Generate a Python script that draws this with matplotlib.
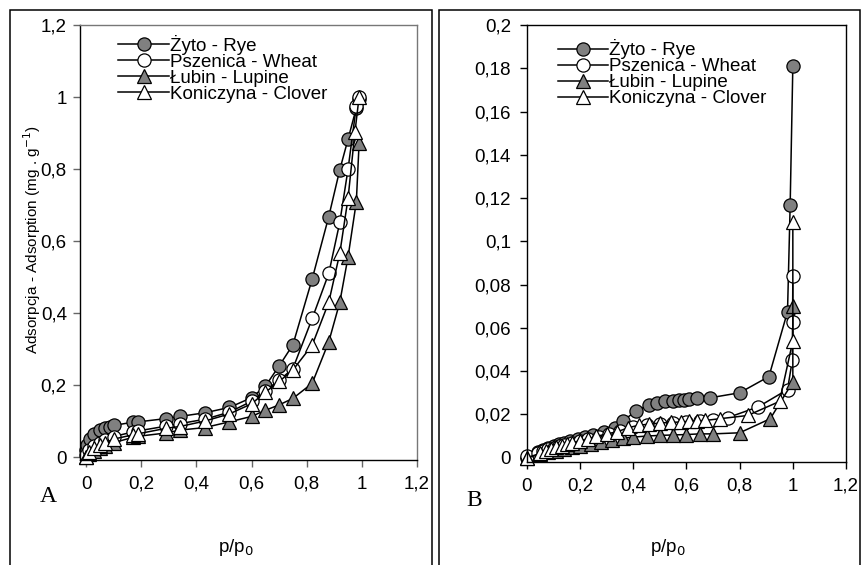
import matplotlib
matplotlib.use("Agg")
import matplotlib.pyplot as plt
from matplotlib.patches import Rectangle

plt.rcParams['font.family'] = ['Liberation Sans', 'DejaVu Sans']

# ---- Panel A: adsorption isotherms, full range ----
labels = ["Żyto - Rye", "Pszenica - Wheat", "Łubin - Lupine", "Koniczyna - Clover"]

a_rye_x = [0.0, 0.005, 0.015, 0.03, 0.05, 0.07, 0.085, 0.1, 0.17, 0.19, 0.29, 0.34,
           0.43, 0.52, 0.6, 0.65, 0.7, 0.75, 0.82, 0.88, 0.92, 0.95, 0.98, 0.99]
a_rye_y = [0.02, 0.035, 0.05, 0.065, 0.075, 0.08, 0.085, 0.088, 0.097, 0.098, 0.107, 0.113,
           0.123, 0.138, 0.165, 0.197, 0.253, 0.312, 0.495, 0.668, 0.798, 0.883, 0.97, 0.995]

a_wheat_x = [0.0, 0.01, 0.03, 0.05, 0.07, 0.1, 0.17, 0.19, 0.29, 0.34, 0.43,
             0.52, 0.6, 0.65, 0.7, 0.75, 0.82, 0.88, 0.92, 0.95, 0.98, 0.99]
a_wheat_y = [0.005, 0.02, 0.03, 0.04, 0.047, 0.057, 0.07, 0.073, 0.086, 0.093, 0.105,
             0.125, 0.155, 0.185, 0.213, 0.246, 0.385, 0.51, 0.652, 0.8, 0.975, 1.0]

a_lupine_x = [0.0, 0.01, 0.03, 0.05, 0.07, 0.1, 0.17, 0.19, 0.29, 0.34, 0.43,
              0.52, 0.6, 0.65, 0.7, 0.75, 0.82, 0.88, 0.92, 0.95, 0.98, 0.99]
a_lupine_y = [0.0, 0.01, 0.018, 0.025, 0.032, 0.04, 0.055, 0.058, 0.067, 0.075, 0.082,
              0.098, 0.113, 0.13, 0.145, 0.163, 0.205, 0.32, 0.43, 0.556, 0.709, 0.871]

a_clover_x = [0.0, 0.01, 0.03, 0.05, 0.07, 0.1, 0.17, 0.19, 0.29, 0.34, 0.43,
              0.52, 0.6, 0.65, 0.7, 0.75, 0.82, 0.88, 0.92, 0.95, 0.975, 0.99]
a_clover_y = [0.0, 0.015, 0.025, 0.033, 0.04, 0.05, 0.062, 0.065, 0.08, 0.085, 0.1,
              0.12, 0.148, 0.18, 0.21, 0.242, 0.311, 0.43, 0.566, 0.719, 0.903, 1.0]

# ---- Panel B: low-adsorption range ----
b_rye_x = [0.0, 0.04, 0.06, 0.08, 0.10, 0.12, 0.14, 0.16, 0.19, 0.22, 0.25, 0.29, 0.33,
           0.36, 0.41, 0.46, 0.49, 0.52, 0.55, 0.57, 0.59, 0.61, 0.64, 0.69, 0.80,
           0.91, 0.98, 0.99, 1.0]
b_rye_y = [0.0, 0.0025, 0.0035, 0.0045, 0.0055, 0.0062, 0.007, 0.0078, 0.0085, 0.0095,
           0.0105, 0.0118, 0.0138, 0.017, 0.0215, 0.0245, 0.0255, 0.026, 0.0262, 0.0265,
           0.0268, 0.027, 0.0275, 0.0277, 0.030, 0.0375, 0.0675, 0.117, 0.181]

b_wheat_x = [0.0, 0.04, 0.06, 0.08, 0.10, 0.12, 0.14, 0.17, 0.20, 0.23, 0.27, 0.31, 0.35,
             0.40, 0.45, 0.50, 0.55, 0.60, 0.65, 0.70, 0.755, 0.87, 0.98, 0.998, 0.999, 1.0]
b_wheat_y = [0.001, 0.002, 0.003, 0.0038, 0.0045, 0.0052, 0.006, 0.0068, 0.0075, 0.0085,
             0.0095, 0.011, 0.0125, 0.014, 0.015, 0.0155, 0.016, 0.0165, 0.017, 0.0175,
             0.0185, 0.0235, 0.0315, 0.045, 0.0626, 0.084]

b_lupine_x = [0.0, 0.05, 0.08, 0.11, 0.14, 0.17, 0.20, 0.24, 0.28, 0.32, 0.36, 0.40, 0.45,
              0.50, 0.55, 0.60, 0.65, 0.70, 0.80, 0.915, 1.0, 1.0]
b_lupine_y = [0.0, 0.0015, 0.0025, 0.0033, 0.004, 0.0048, 0.0055, 0.0063, 0.0072, 0.0082,
              0.009, 0.0095, 0.010, 0.0103, 0.0105, 0.0107, 0.011, 0.011, 0.0115, 0.018,
              0.035, 0.0703]

b_clover_x = [0.0, 0.05, 0.07, 0.09, 0.11, 0.13, 0.15, 0.17, 0.20, 0.23, 0.26, 0.30, 0.34,
              0.38, 0.42, 0.46, 0.50, 0.54, 0.58, 0.61, 0.64, 0.67, 0.725, 0.83, 0.95,
              1.0, 1.0]
b_clover_y = [0.0, 0.002, 0.003, 0.004, 0.0048, 0.0055, 0.0062, 0.007, 0.0078, 0.0088,
              0.0098, 0.011, 0.012, 0.0138, 0.015, 0.0155, 0.016, 0.0163, 0.0165, 0.0168,
              0.017, 0.0172, 0.018, 0.0195, 0.026, 0.054, 0.109]

x_ticks = [0, 0.2, 0.4, 0.6, 0.8, 1.0, 1.2]
x_tick_labels = ["0", "0,2", "0,4", "0,6", "0,8", "1", "1,2"]
a_y_ticks = [0, 0.2, 0.4, 0.6, 0.8, 1.0, 1.2]
a_y_tick_labels = ["0", "0,2", "0,4", "0,6", "0,8", "1", "1,2"]
b_y_ticks = [0, 0.02, 0.04, 0.06, 0.08, 0.1, 0.12, 0.14, 0.16, 0.18, 0.2]
b_y_tick_labels = ["0", "0,02", "0,04", "0,06", "0,08", "0,1", "0,12", "0,14",
                   "0,16", "0,18", "0,2"]

GRAY = "#808080"
styles = [
    dict(marker="o", markerfacecolor=GRAY),
    dict(marker="o", markerfacecolor="white"),
    dict(marker="^", markerfacecolor=GRAY),
    dict(marker="^", markerfacecolor="white"),
]

W, H = 862, 565
fig = plt.figure(figsize=(W / 100, H / 100), dpi=100)


def px_axes(l, r, t, b):
    return fig.add_axes([l / W, 1 - b / H, (r - l) / W, (b - t) / H])


axA = px_axes(80, 417, 25, 460)
axB = px_axes(527, 846, 25, 462)

seriesA = [(a_rye_x, a_rye_y), (a_wheat_x, a_wheat_y),
           (a_lupine_x, a_lupine_y), (a_clover_x, a_clover_y)]
seriesB = [(b_rye_x, b_rye_y), (b_wheat_x, b_wheat_y),
           (b_lupine_x, b_lupine_y), (b_clover_x, b_clover_y)]

for ax, series, anchor in ((axA, seriesA, (0.08, 1.003)),
                           (axB, seriesB, (0.061, 0.993))):
    for (xs, ys), st, lab in zip(series, styles, labels):
        ax.plot(xs, ys, color="black", linewidth=1.1, markersize=9.5,
                markeredgecolor="black", markeredgewidth=0.9, label=lab,
                clip_on=False, **st)
    ax.legend(loc="upper left", bbox_to_anchor=anchor, frameon=False,
              fontsize=13.5, handlelength=2.7, handletextpad=0.05,
              labelspacing=-0.06, borderaxespad=0.2)

# Panel A axes styling
axA.set_xlim(-0.022, 1.2)
axA.set_ylim(-0.008, 1.2)
axA.set_xticks(x_ticks, x_tick_labels)
axA.set_yticks(a_y_ticks, a_y_tick_labels)
axA.tick_params(direction="out", length=5, width=1, colors="#666666",
                labelcolor="black", labelsize=13.5)
axA.tick_params(axis="x", pad=6.5)
axA.tick_params(axis="y", pad=4.5)
for side in ("left", "bottom"):
    axA.spines[side].set_color("black")
    axA.spines[side].set_linewidth(1.0)
for side in ("top", "right"):
    axA.spines[side].set_color("#777777")
    axA.spines[side].set_linewidth(1.0)
axA.set_ylabel("Adsorpcja - Adsorption (mg . g$^{-1}$)", fontsize=11)
axA.yaxis.set_label_coords(-0.142, 0.506)
axA.yaxis.label.set_va("center")
axA.set_xlabel("p/p$_0$", fontsize=13.5)
axA.xaxis.set_label_coords(0.463, -0.2)
axA.xaxis.label.set_va("center")

# Panel B axes styling
axB.set_xlim(0, 1.2)
axB.set_ylim(-0.002, 0.2)
axB.set_xticks(x_ticks, x_tick_labels)
axB.set_yticks(b_y_ticks, b_y_tick_labels)
axB.tick_params(direction="out", length=5, width=1, colors="black", labelsize=13.5)
axB.tick_params(axis="x", pad=6.5)
axB.tick_params(axis="y", pad=6.5)
for side in ("left", "bottom", "top", "right"):
    axB.spines[side].set_color("black")
    axB.spines[side].set_linewidth(1.0)
axB.set_xlabel("p/p$_0$", fontsize=13.5)
axB.xaxis.set_label_coords(0.442, -0.195)
axB.xaxis.label.set_va("center")

# Panel letters
fig.text(48 / W, 1 - 497 / H, "A", fontsize=17, family="Liberation Serif",
         ha="center", va="center")
fig.text(474 / W, 1 - 500 / H, "B", fontsize=17, family="Liberation Serif",
         ha="center", va="center")

# Frames around each panel
for l, r in ((10, 432), (439, 860)):
    fig.add_artist(Rectangle((l / W, -0.02), (r - l) / W, 1 - 10 / H + 0.02,
                             transform=fig.transFigure, fill=False,
                             edgecolor="black", linewidth=1.1))

fig.savefig("out.png", dpi=100)
